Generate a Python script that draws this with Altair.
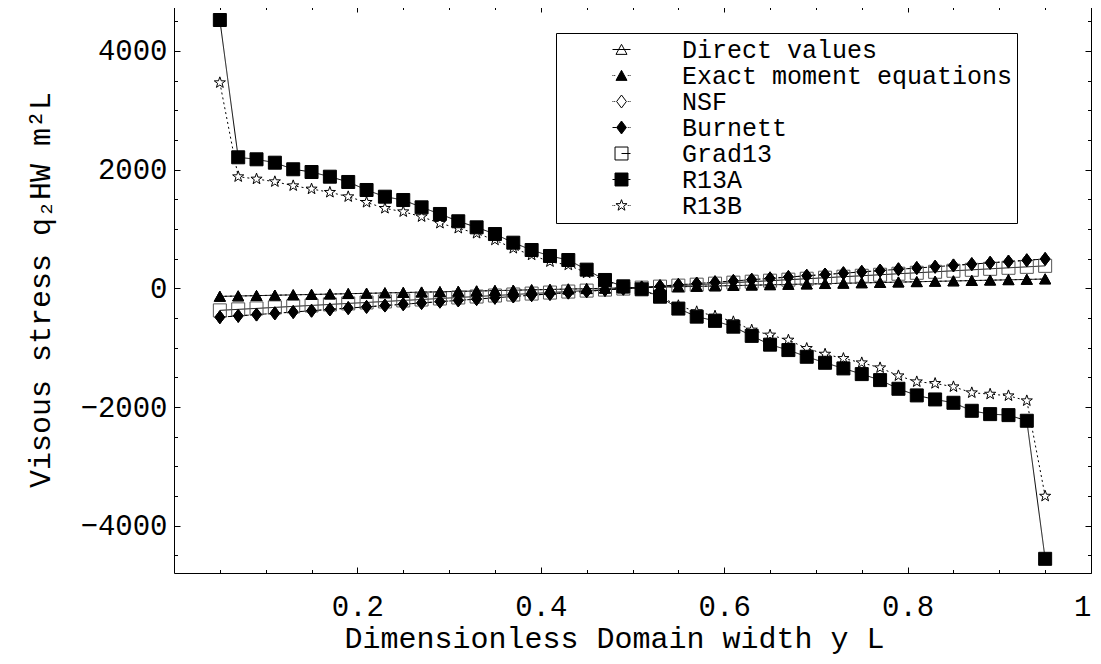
import re
import altair as alt
import pandas as pd

# ---------------- data ----------------
x_vals = [0.05, 0.07, 0.09, 0.11, 0.13, 0.15, 0.17, 0.19, 0.21, 0.23,
          0.25, 0.27, 0.29, 0.31, 0.33, 0.35, 0.37, 0.39, 0.41, 0.43,
          0.45, 0.47, 0.49, 0.51, 0.53, 0.55, 0.57, 0.59, 0.61, 0.63,
          0.65, 0.67, 0.69, 0.71, 0.73, 0.75, 0.77, 0.79, 0.81, 0.83,
          0.85, 0.87, 0.89, 0.91, 0.93, 0.95]

direct_values = [-135, -128, -122, -115, -109, -102, -96, -89, -83, -76,
                 -70, -63, -57, -50, -44, -37, -31, -24, -18, -11,
                 -5, 2, 8, 15, 21, 28, 34, 41, 47, 54,
                 60, 67, 73, 80, 86, 93, 99, 106, 112, 119,
                 125, 132, 138, 145, 151, 158]

exact_moment = [-135, -128, -122, -115, -109, -102, -96, -89, -83, -76,
                -70, -63, -57, -50, -44, -37, -31, -24, -18, -11,
                -5, 2, 8, 15, 21, 28, 34, 41, 47, 54,
                60, 67, 73, 80, 86, 93, 99, 106, 112, 119,
                125, 132, 138, 145, 151, 158]

nsf = [-485, -463, -441, -420, -398, -376, -354, -332, -311, -289,
       -267, -245, -223, -202, -180, -158, -136, -114, -93, -71,
       -49, -27, -5, 16, 38, 60, 82, 104, 125, 147,
       169, 191, 213, 234, 256, 278, 300, 322, 343, 365,
       387, 409, 431, 452, 474, 496]

burnett = [-485, -463, -441, -420, -398, -376, -354, -332, -311, -289,
           -267, -245, -223, -202, -180, -158, -136, -114, -93, -71,
           -49, -27, -5, 16, 38, 60, 82, 104, 125, 147,
           169, 191, 213, 234, 256, 278, 300, 322, 343, 365,
           387, 409, 431, 452, 474, 496]

grad13 = [-370, -353, -337, -320, -303, -287, -270, -253, -237, -220,
          -203, -187, -170, -153, -137, -120, -103, -87, -70, -53,
          -37, -20, -3, 13, 30, 47, 63, 80, 97, 113,
          130, 147, 163, 180, 197, 213, 230, 247, 263, 280,
          297, 313, 330, 347, 363, 380]

r13a = [4522, 2209, 2175, 2118, 2007, 1961, 1882, 1793, 1658, 1545,
        1489, 1366, 1254, 1131, 1029, 916, 770, 647, 546, 478,
        316, 142, 35, -15, -140, -340, -476, -547, -645, -800,
        -948, -1039, -1152, -1253, -1348, -1444, -1545, -1691, -1803, -1871,
        -1927, -2062, -2118, -2135, -2230, -4556]

r13b = [3466, 1882, 1843, 1798, 1730, 1675, 1619, 1545, 1450, 1349,
        1292, 1208, 1097, 1013, 928, 815, 675, 563, 450, 394,
        260, 130, 35, -30, -140, -290, -392, -465, -561, -701,
        -785, -870, -1011, -1107, -1180, -1253, -1337, -1472, -1573, -1601,
        -1657, -1758, -1781, -1809, -1893, -3500]

series_order = ["Direct values", "Exact moment equations", "NSF", "Burnett",
                "Grad13", "R13A", "R13B"]
draw_order = ["Grad13", "NSF", "Direct values", "Exact moment equations",
              "Burnett", "R13B", "R13A"]
series_values = {
    "Direct values": direct_values,
    "Exact moment equations": exact_moment,
    "NSF": nsf,
    "Burnett": burnett,
    "Grad13": grad13,
    "R13A": r13a,
    "R13B": r13b,
}

x_label_vals = [0.2, 0.4, 0.6, 0.8, 1.0]
x_tick_vals = [0.05, 0.1, 0.15, 0.2, 0.25, 0.3, 0.35, 0.4, 0.45, 0.5,
               0.55, 0.6, 0.65, 0.7, 0.75, 0.8, 0.85, 0.9, 0.95, 1.0]
y_label_vals = [-4000, -2000, 0, 2000, 4000]
y_tick_vals = [-4500, -4000, -3500, -3000, -2500, -2000, -1500, -1000, -500, 0,
               500, 1000, 1500, 2000, 2500, 3000, 3500, 4000, 4500]

rows = []
for s in draw_order:
    for xv, yv in zip(x_vals, series_values[s]):
        rows.append({"x": xv, "v": yv, "series": s})
df = pd.DataFrame(rows)

# ---------------- styles ----------------
W, H = 917, 567
FONT = "Liberation Mono"

TRI = "M0,-0.8L0.85,0.75L-0.85,0.75Z"
SQ = "M-1,-1L1,-1L1,1L-1,1Z"
DIA = "M0,-1L0.75,0L0,1L-0.75,0Z"
STAR = ("M0,-0.9L0.212,-0.291L0.856,-0.278L0.342,0.111L0.529,0.728L0,0.36"
        "L-0.529,0.728L-0.342,0.111L-0.856,-0.278L-0.212,-0.291Z")


def scale_path(p, k):
    def f(m):
        s = f"{float(m.group()) * k:.3f}".rstrip("0").rstrip(".")
        return s if s not in ("", "-", "-0") else "0"
    return re.sub(r"-?\d+(?:\.\d+)?", f, p)


K = 0.72
DOTS_L = " M-1,0L-0.9,0M-0.8,0L-0.7,0"
DOTS_R = " M0.7,0L0.8,0M0.9,0L1,0"
legend_paths = [
    scale_path(TRI, K) + " M-1,0L1,0",
    scale_path(TRI, K) + DOTS_L + DOTS_R,
    scale_path(DIA, K) + DOTS_L + DOTS_R,
    scale_path(DIA, K) + " M-1,0L-0.54,0" + DOTS_R,
    scale_path(SQ, K) + " M0,0L1,0",
    scale_path(SQ, K) + " M-1,0L1,0",
    scale_path(STAR, K) + DOTS_L + DOTS_R,
]
chart_paths = [TRI, TRI, DIA, DIA, SQ, SQ, STAR]
chart_fills = ["transparent", "black", "white", "black", "transparent", "black", "white"]
legend_fills = ["white", "black", "white", "black", "white", "black", "white"]
legend_strokes = ["black"] * 7
chart_strokes = ["black", "black", "black", "black", "#555555", "black", "black"]
dashes = [[1, 0], [2, 3], [2, 3], [5, 3], [1, 0], [1, 0], [2, 3]]

xscale = alt.Scale(domain=[0, 1], nice=False, zero=False)
yscale = alt.Scale(domain=[-4795, 4758], nice=False, zero=False)

x_tick_size = {"condition": {"test": "abs(datum.value * 5 - round(datum.value * 5)) < 0.001",
                             "value": 6}, "value": 3.5}
y_tick_size = {"condition": {"test": "datum.value % 2000 === 0", "value": 6}, "value": 3.5}

base = alt.Chart(df)

lines = base.mark_line(color="black", strokeWidth=1).encode(
    x=alt.X("x:Q", scale=xscale, axis=None),
    y=alt.Y("v:Q", scale=yscale, axis=None),
    detail="series:N",
    strokeDash=alt.StrokeDash("series:N", scale=alt.Scale(domain=series_order, range=dashes),
                              legend=None),
)

points = base.mark_point(filled=True, opacity=1, size=169, strokeWidth=1).encode(
    x=alt.X("x:Q", scale=xscale,
            axis=alt.Axis(orient="bottom", values=x_label_vals, ticks=False, domain=False,
                          grid=False, labelFlush=True, labelPadding=19,
                          labelExpr="datum.value == 1 ? '1' : format(datum.value, '.1f')",
                          labelFont=FONT, labelFontSize=29, labelColor="black",
                          title="Dimensionless Domain width y L", titleFont=FONT,
                          titleFontSize=30, titleFontWeight="normal", titleColor="black",
                          titleX=440, titleY=74, titleAlign="center",
                          titleBaseline="alphabetic")),
    y=alt.Y("v:Q", scale=yscale,
            axis=alt.Axis(orient="left", values=y_label_vals, ticks=False, domain=False,
                          grid=False, labelFlush=False, labelPadding=7, format="d",
                          labelFont=FONT, labelFontSize=29, labelColor="black",
                          title="Visous stress q\u2082HW m\u00b2L", titleFont=FONT,
                          titleFontSize=30, titleFontWeight="normal", titleColor="black",
                          titleX=-134, titleY=H / 2, titleAngle=270, titleAlign="center",
                          titleBaseline="middle")),
    shape=alt.Shape("series:N", scale=alt.Scale(domain=series_order, range=chart_paths),
                    legend=None),
    fill=alt.Fill("series:N", scale=alt.Scale(domain=series_order, range=chart_fills),
                  legend=None),
    stroke=alt.Stroke("series:N", scale=alt.Scale(domain=series_order, range=chart_strokes),
                      legend=None),
    order=alt.Order("idx:Q"),
).transform_window(idx="row_number()")

legend_props = dict(
    title=None, orient="none", legendX=382, legendY=27,
    strokeColor="black", fillColor="white", padding=4,
    symbolSize=324, symbolOffset=49, labelOffset=48,
    symbolStrokeColor="black", symbolStrokeWidth=1, symbolOpacity=1,
    labelFont=FONT, labelFontSize=25, labelColor="black", labelLimit=0,
    rowPadding=0,
)

legend_layer = base.transform_filter("datum.x > 5").mark_point(
    filled=True, opacity=1, strokeWidth=1).encode(
    x=alt.X("x:Q", scale=xscale, axis=None),
    y=alt.Y("v:Q", scale=yscale, axis=None),
    shape=alt.Shape("series:N", scale=alt.Scale(domain=series_order, range=legend_paths),
                    legend=alt.Legend(**legend_props)),
    fill=alt.Fill("series:N", scale=alt.Scale(domain=series_order, range=legend_fills),
                  legend=alt.Legend(**legend_props)),
    stroke=alt.Stroke("series:N", scale=alt.Scale(domain=series_order, range=legend_strokes),
                      legend=alt.Legend(**legend_props)),
)


def tick_axis(orient, offset, values, size):
    return alt.Axis(orient=orient, offset=offset, values=values, labels=False, domain=False,
                    grid=False, ticks=True, tickSize=size, tickColor="black", tickWidth=1,
                    title=None)


ticks_a = base.mark_point(opacity=0).encode(
    x=alt.X("x:Q", scale=xscale, axis=tick_axis("top", -H, x_tick_vals, x_tick_size)),
    y=alt.Y("v:Q", scale=yscale, axis=tick_axis("right", -W, y_tick_vals, y_tick_size)),
)
ticks_b = base.mark_point(opacity=0).encode(
    x=alt.X("x:Q", scale=xscale, axis=tick_axis("bottom", -H, x_tick_vals, x_tick_size)),
    y=alt.Y("v:Q", scale=yscale, axis=tick_axis("left", -W, y_tick_vals, y_tick_size)),
)

chart = alt.layer(lines, points, legend_layer, ticks_a, ticks_b).resolve_scale(
    shape="independent", fill="independent", stroke="independent",
    strokeDash="independent",
).resolve_axis(
    x="independent", y="independent"
).properties(
    width=W, height=H,
    padding={"left": 166, "top": -2, "right": 2, "bottom": 83},
    autosize=alt.AutoSizeParams(type="none"),
    background="white",
).configure_view(
    stroke="black", strokeWidth=1
).configure_axis(grid=False)

chart.save("out.html", embed_options={"renderer": "svg", "actions": False})
